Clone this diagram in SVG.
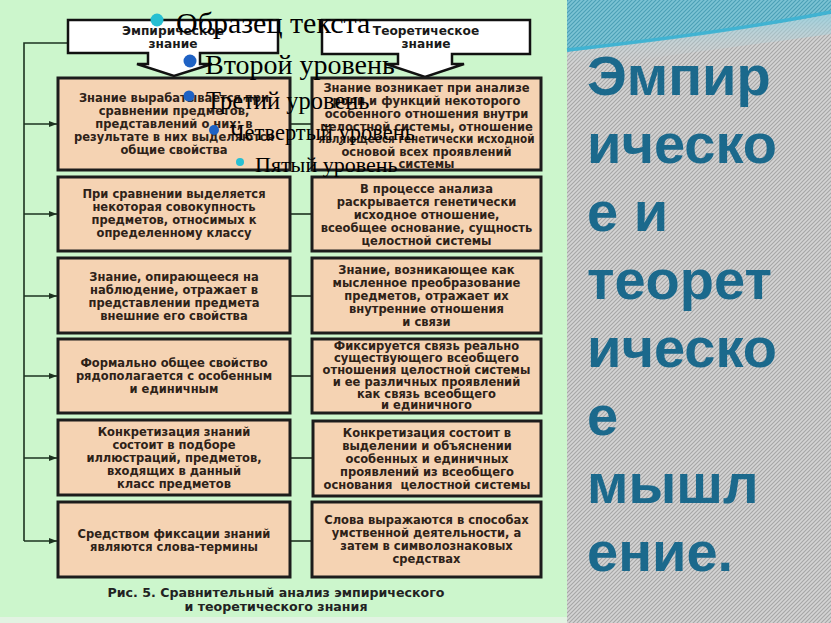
<svg xmlns="http://www.w3.org/2000/svg" width="831" height="623" viewBox="0 0 831 623">
<defs>
<style>
.bx{fill:#f5d3b3;stroke:#1c1c1c;stroke-width:3}
.hdb{fill:#ffffff;stroke:#111;stroke-width:2.5;stroke-linejoin:miter}
.t{font-family:"DejaVu Sans",Verdana,sans-serif;font-weight:bold;font-size:11.5px;fill:#2e2218;text-anchor:middle}
.h{font-family:"DejaVu Sans",Verdana,sans-serif;font-weight:bold;font-size:12.2px;fill:#1a1a1a;text-anchor:middle}
.cap{font-family:"DejaVu Sans",Verdana,sans-serif;font-weight:bold;font-size:12.6px;fill:#222;text-anchor:middle}
.ov{font-family:"Liberation Serif","Times New Roman",serif;fill:#000}
.ttl{font-family:"Liberation Sans",Arial,sans-serif;font-weight:bold;font-size:56px;fill:#1b698c}
.ln{stroke:#1d3320;stroke-width:1.6;fill:none}
</style>
<marker id="ar" markerWidth="8" markerHeight="6" refX="8" refY="3" orient="auto" markerUnits="userSpaceOnUse">
<path d="M0,0 L8,3 L0,6 Z" fill="#1d3320"/>
</marker>
<pattern id="hatch" width="4" height="4" patternUnits="userSpaceOnUse">
<rect width="4" height="4" fill="#d4d4d4"/>
<path d="M-1,1 L1,-1 M0,4 L4,0 M3,5 L5,3" stroke="#a6a6a6" stroke-width="1.1"/>
</pattern>
<pattern id="hatchb" width="4" height="4" patternUnits="userSpaceOnUse">
<rect width="4" height="4" fill="#7cc3d4"/>
<path d="M-1,1 L1,-1 M0,4 L4,0 M3,5 L5,3" stroke="#4a9fb6" stroke-width="1.1"/>
</pattern>
<linearGradient id="fade" x1="0" y1="0" x2="0" y2="1">
<stop offset="0" stop-color="#8fd0e0" stop-opacity="0.8"/>
<stop offset="1" stop-color="#d6d6d6" stop-opacity="0"/>
</linearGradient>
</defs>

<rect x="0" y="0" width="831" height="623" fill="#ccf6cc"/>
<rect x="0" y="617" width="567" height="6" fill="#e2f3e2"/>

<g id="title-panel">
<rect x="567" y="0" width="264" height="623" fill="url(#hatch)"/>
<path d="M567,0 H831 V14 C760,28 660,40 567,52 Z" fill="url(#hatchb)"/>
<path d="M567,52 C660,40 760,28 831,14 V34 C760,44 660,56 567,70 Z" fill="url(#fade)"/>
<path d="M567,50 C660,40 760,26 831,12" stroke="#3cb3d3" stroke-width="3.5" fill="none" opacity="0.9"/>
<text class="ttl" x="587" y="95">Эмпир</text>
<text class="ttl" x="587" y="163">ическо</text>
<text class="ttl" x="587" y="231">е и</text>
<text class="ttl" x="587" y="299">теорет</text>
<text class="ttl" x="587" y="367">ическо</text>
<text class="ttl" x="587" y="435">е</text>
<text class="ttl" x="587" y="503">мышл</text>
<text class="ttl" x="587" y="571">ение.</text>
</g>

<g id="connectors">
<path class="ln" d="M68,43 H24 V541"/>
<line class="ln" x1="24" y1="124" x2="57" y2="124" marker-end="url(#ar)"/>
<line class="ln" x1="24" y1="214" x2="57" y2="214" marker-end="url(#ar)"/>
<line class="ln" x1="24" y1="296" x2="57" y2="296" marker-end="url(#ar)"/>
<line class="ln" x1="24" y1="376" x2="57" y2="376" marker-end="url(#ar)"/>
<line class="ln" x1="24" y1="458" x2="57" y2="458" marker-end="url(#ar)"/>
<line class="ln" x1="24" y1="541" x2="57" y2="541" marker-end="url(#ar)"/>
<line class="ln" x1="290" y1="124" x2="312" y2="124"/>
<line class="ln" x1="290" y1="214" x2="312" y2="214"/>
<line class="ln" x1="290" y1="296" x2="312" y2="296"/>
<line class="ln" x1="290" y1="376" x2="312" y2="376"/>
<line class="ln" x1="290" y1="458" x2="312" y2="458"/>
<line class="ln" x1="290" y1="541" x2="312" y2="541"/>
</g>

<g id="head-empirical">
<path class="hdb" d="M68,20 H278 V53 H200 V64 H212 L174,76 L137,64 H148 V53 H68 Z"/>
<text class="h" x="173" y="35">Эмпирическое</text>
<text class="h" x="173" y="48">знание</text>
</g>
<g id="head-theoretical">
<path class="hdb" d="M322,20 H530 V54 H452 V64 H464 L425,77 L386,64 H398 V54 H322 Z"/>
<text class="h" x="426" y="35">Теоретическое</text>
<text class="h" x="426" y="48">знание</text>
</g>

<g id="e1"><rect class="bx" x="58" y="78" width="232" height="92"/>
<text class="t" x="174" y="102">Знание вырабатывается при</text>
<text class="t" x="174" y="115">сравнении предметов,</text>
<text class="t" x="174" y="128">представлений о них; в</text>
<text class="t" x="174" y="141">результате в них выделяются</text>
<text class="t" x="174" y="154">общие свойства</text></g>
<g id="t1"><rect class="bx" x="312" y="78" width="229" height="92"/>
<text class="t" x="426.5" y="92">Знание возникает при анализе</text>
<text class="t" x="426.5" y="105">роли и функций некоторого</text>
<text class="t" x="426.5" y="118">особенного отношения внутри</text>
<text class="t" x="426.5" y="131">целостной системы, отношение</text>
<text class="t" x="426.5" y="143" textLength="216" lengthAdjust="spacingAndGlyphs">являющееся генетически исходной</text>
<text class="t" x="426.5" y="156">основой всех проявлений</text>
<text class="t" x="426.5" y="168">системы</text></g>

<g id="e2"><rect class="bx" x="58" y="177" width="232" height="74"/>
<text class="t" x="174" y="198">При сравнении выделяется</text>
<text class="t" x="174" y="211">некоторая совокупность</text>
<text class="t" x="174" y="224">предметов, относимых к</text>
<text class="t" x="174" y="237">определенному классу</text></g>
<g id="t2"><rect class="bx" x="312" y="177" width="229" height="74"/>
<text class="t" x="426.5" y="193">В процессе анализа</text>
<text class="t" x="426.5" y="206">раскрывается генетически</text>
<text class="t" x="426.5" y="219">исходное отношение,</text>
<text class="t" x="426.5" y="232">всеобщее основание, сущность</text>
<text class="t" x="426.5" y="245">целостной системы</text></g>

<g id="e3"><rect class="bx" x="58" y="258" width="232" height="75"/>
<text class="t" x="174" y="281">Знание, опирающееся на</text>
<text class="t" x="174" y="294">наблюдение, отражает в</text>
<text class="t" x="174" y="307">представлении предмета</text>
<text class="t" x="174" y="320">внешние его свойства</text></g>
<g id="t3"><rect class="bx" x="312" y="258" width="229" height="75"/>
<text class="t" x="426.5" y="274">Знание, возникающее как</text>
<text class="t" x="426.5" y="287">мысленное преобразование</text>
<text class="t" x="426.5" y="300">предметов, отражает их</text>
<text class="t" x="426.5" y="313">внутренние отношения</text>
<text class="t" x="426.5" y="326">и связи</text></g>

<g id="e4"><rect class="bx" x="58" y="339" width="232" height="74"/>
<text class="t" x="174" y="367">Формально общее свойство</text>
<text class="t" x="174" y="380">рядополагается с особенным</text>
<text class="t" x="174" y="393">и единичным</text></g>
<g id="t4"><rect class="bx" x="312" y="339" width="229" height="74"/>
<text class="t" x="426.5" y="350">Фиксируется связь реально</text>
<text class="t" x="426.5" y="362">существующего всеобщего</text>
<text class="t" x="426.5" y="374">отношения целостной системы</text>
<text class="t" x="426.5" y="386">и ее различных проявлений</text>
<text class="t" x="426.5" y="398">как связь всеобщего</text>
<text class="t" x="426.5" y="409">и единичного</text></g>

<g id="e5"><rect class="bx" x="58" y="420" width="232" height="75"/>
<text class="t" x="174" y="436">Конкретизация знаний</text>
<text class="t" x="174" y="449">состоит в подборе</text>
<text class="t" x="174" y="462">иллюстраций, предметов,</text>
<text class="t" x="174" y="475">входящих в данный</text>
<text class="t" x="174" y="488">класс предметов</text></g>
<g id="t5"><rect class="bx" x="313" y="421" width="228" height="75"/>
<text class="t" x="427" y="437">Конкретизация состоит в</text>
<text class="t" x="427" y="450">выделении и объяснении</text>
<text class="t" x="427" y="463">особенных и единичных</text>
<text class="t" x="427" y="476">проявлений из всеобщего</text>
<text class="t" x="427" y="489" xml:space="preserve">основания  целостной системы</text></g>

<g id="e6"><rect class="bx" x="58" y="502" width="232" height="75"/>
<text class="t" x="174" y="538">Средством фиксации знаний</text>
<text class="t" x="174" y="551">являются слова-термины</text></g>
<g id="t6"><rect class="bx" x="312" y="502" width="229" height="75"/>
<text class="t" x="426.5" y="524">Слова выражаются в способах</text>
<text class="t" x="426.5" y="537">умственной деятельности, а</text>
<text class="t" x="426.5" y="550">затем в символознаковых</text>
<text class="t" x="426.5" y="563">средствах</text></g>

<g id="caption">
<text class="cap" x="276" y="597">Рис. 5. Сравнительный анализ эмпирического</text>
<text class="cap" x="276" y="611">и теоретического знания</text>
</g>

<g id="placeholder">
<circle cx="157" cy="20" r="6.5" fill="#27bfd2"/>
<text class="ov" x="176" y="33" font-size="30">Образец текста</text>
<circle cx="190" cy="61" r="6.5" fill="#1f62c4"/>
<text class="ov" x="205" y="74" font-size="28">Второй уровень</text>
<circle cx="189" cy="96" r="5.5" fill="#1f62c4"/>
<text class="ov" x="206" y="109" font-size="24.5">Третий уровень</text>
<circle cx="214" cy="130" r="5" fill="#1f62c4"/>
<text class="ov" x="230" y="140" font-size="22.5">Четвертый уровень</text>
<circle cx="240" cy="162" r="4" fill="#27bfd2"/>
<text class="ov" x="255" y="172" font-size="22">Пятый уровень</text>
</g>
</svg>
